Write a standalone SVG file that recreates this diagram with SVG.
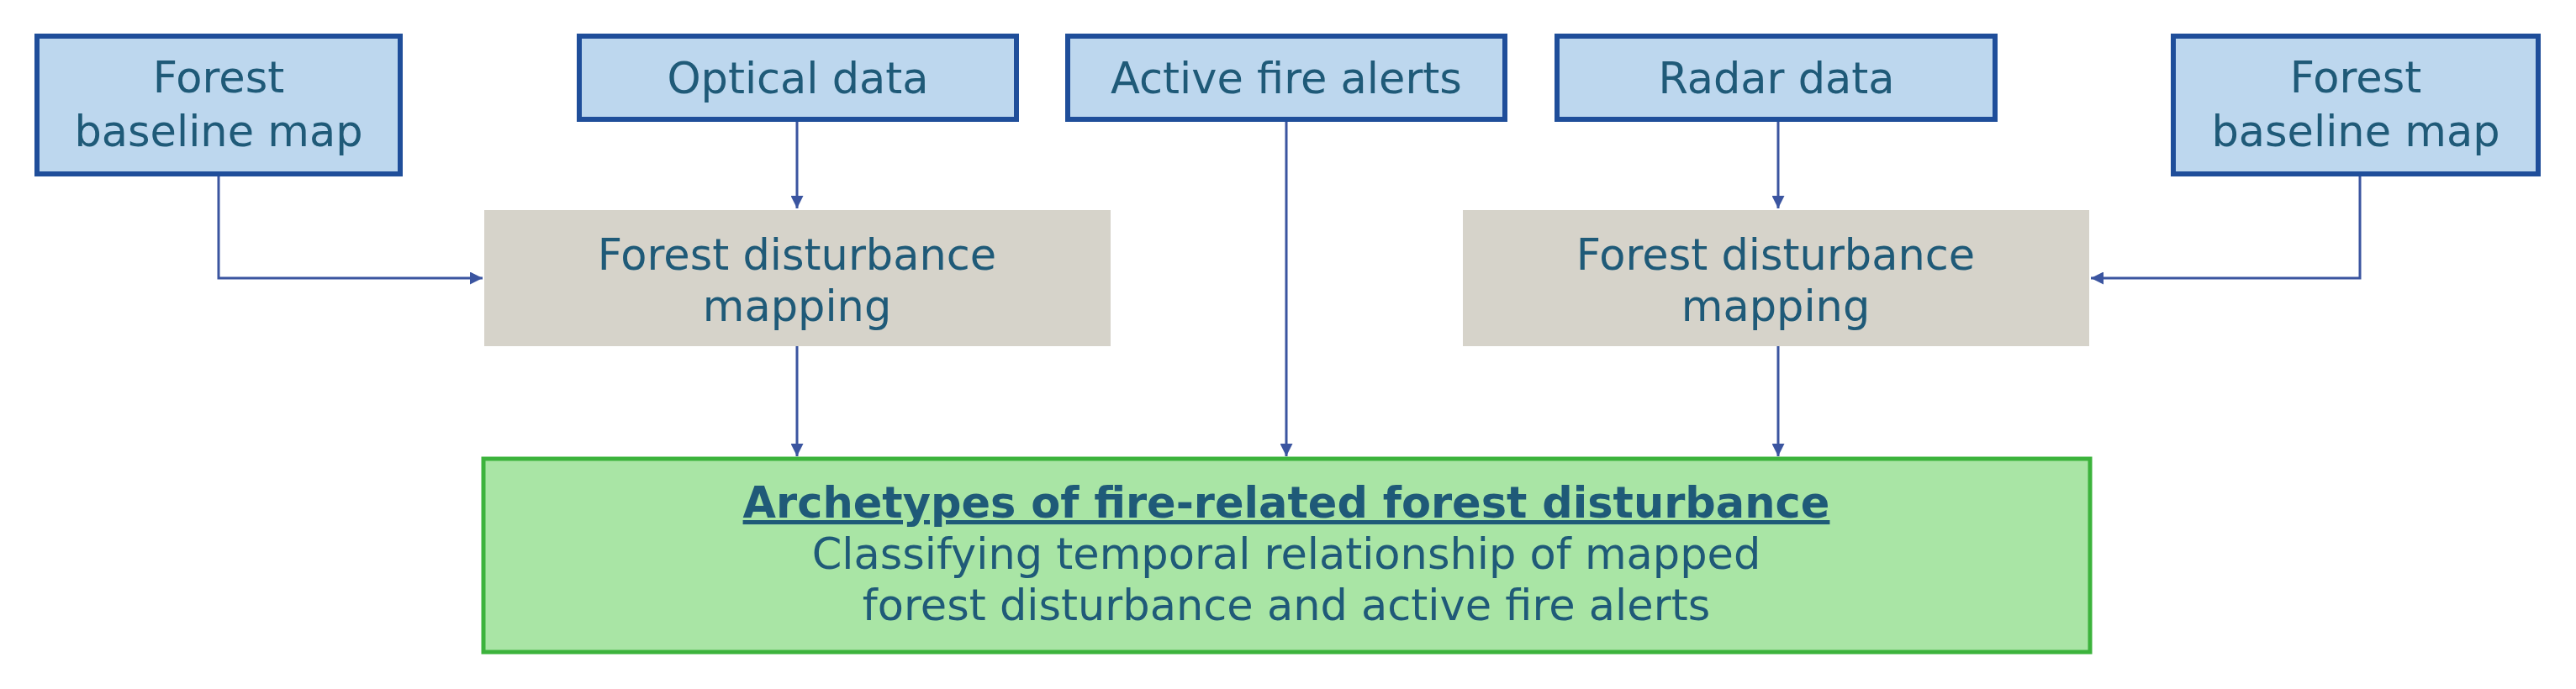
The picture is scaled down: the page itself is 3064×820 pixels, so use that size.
<svg xmlns="http://www.w3.org/2000/svg" width="3064" height="820" viewBox="0 0 3064 820">
<defs>
<marker id="ah" viewBox="0 0 10 10" refX="10" refY="5" markerWidth="5" markerHeight="5" orient="auto" markerUnits="strokeWidth"><path d="M0,0 L10,5 L0,10 z" fill="#3B55A0"/></marker>
<style>
text{font-family:"DejaVu Sans","Verdana",sans-serif;font-size:51px;fill:#1F5A78;text-anchor:middle}
.in{fill:#BDD7EE;stroke:#1F4E9A;stroke-width:6}
.gr{fill:#D6D3CA}
.gn{fill:#A9E5A5;stroke:#3CB33C;stroke-width:5}
.c{fill:none;stroke:#3B55A0;stroke-width:3;marker-end:url(#ah)}
</style>
</defs>
<rect width="3064" height="820" fill="#fff"/>
<g id="connectors">
<path class="c" d="M260,207 V331 H574"/>
<path class="c" d="M948,142 V248"/>
<path class="c" d="M948,412 V543"/>
<path class="c" d="M1530,142 V543"/>
<path class="c" d="M2115,142 V248"/>
<path class="c" d="M2115,412 V543"/>
<path class="c" d="M2807,207 V331 H2487"/>
</g>
<g id="forest-left"><rect class="in" x="44" y="43" width="432" height="164"/><text x="260" y="110">Forest</text><text x="260" y="174">baseline map</text></g>
<g id="optical"><rect class="in" x="689" y="43" width="520" height="99"/><text x="949" y="111">Optical data</text></g>
<g id="active"><rect class="in" x="1270" y="43" width="520" height="99"/><text x="1530" y="111">Active fire alerts</text></g>
<g id="radar"><rect class="in" x="1852" y="43" width="521" height="99"/><text x="2113" y="111">Radar data</text></g>
<g id="forest-right"><rect class="in" x="2585" y="43" width="434" height="164"/><text x="2802" y="110">Forest</text><text x="2802" y="174">baseline map</text></g>
<g id="fdm-left"><rect class="gr" x="576" y="250" width="745" height="162"/><text x="948" y="321">Forest disturbance</text><text x="948" y="382">mapping</text></g>
<g id="fdm-right"><rect class="gr" x="1740" y="250" width="745" height="162"/><text x="2112" y="321">Forest disturbance</text><text x="2112" y="382">mapping</text></g>
<g id="archetypes"><rect class="gn" x="575" y="546" width="1911" height="230"/>
<text x="1530" y="616" font-weight="bold" text-decoration="underline">Archetypes of fire-related forest disturbance</text>
<text x="1530" y="677">Classifying temporal relationship of mapped</text>
<text x="1530" y="738">forest disturbance and active fire alerts</text></g>
</svg>
